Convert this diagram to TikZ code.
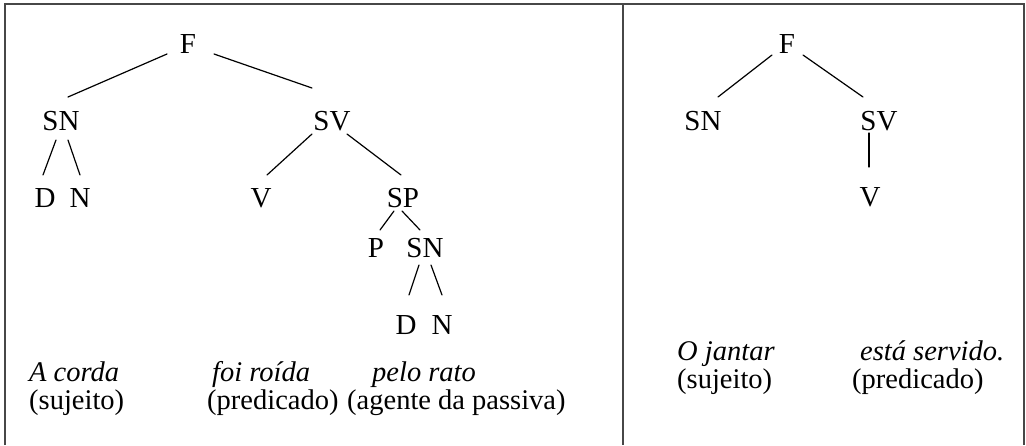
\documentclass[tikz,border=0pt]{standalone}
\usepackage{fontspec}
\setmainfont{Liberation Serif}
\usetikzlibrary{calc}
\begin{document}
\begin{tikzpicture}[x=1pt,y=-1pt,
  lbl/.style={anchor=base,inner sep=0pt,font=\fontsize{29}{29}\selectfont},
  txt/.style={anchor=base west,inner sep=0pt,font=\fontsize{28.5}{29}\selectfont},
  itxt/.style={txt,font=\fontsize{28.5}{29}\selectfont\itshape},
  edge/.style={line width=1.2pt,line cap=round},
  frame/.style={line width=1.6pt,draw=black!72}]
\useasboundingbox (0,0) rectangle (1026,445);
% frame
\draw[frame] (5,445) -- (5,4) -- (1024,4) -- (1024,445);
\draw[frame] (623,4) -- (623,445);
% left tree
\node[lbl] (F)   at (188,53)  {F};
\node[lbl] (SN)  at (61,130)  {SN};
\node[lbl] (SV)  at (332,130) {SV};
\node[lbl] (D)   at (45,207)  {D};
\node[lbl] (N)   at (80,207)  {N};
\node[lbl] (V)   at (261,207) {V};
\node[lbl] (SP)  at (403,207) {SP};
\node[lbl] (P)   at (376,257) {P};
\node[lbl] (SNb) at (425,257) {SN};
\node[lbl] (Db)  at (406,334) {D};
\node[lbl] (Nb)  at (442,334) {N};
\draw[edge] ($(F.base)+(-21,1)$) -- ($(SN.base)+(7,-33)$);
\draw[edge] ($(F.base)+(26,1)$) -- ($(SV.base)+(-20,-42)$);
\draw[edge] ($(SN.base)+(-5,10)$) -- ($(D.base)+(-2,-32)$);
\draw[edge] ($(SN.base)+(7,10)$) -- ($(N.base)+(0,-32)$);
\draw[edge] ($(SV.base)+(-20,4)$) -- ($(V.base)+(6,-32)$);
\draw[edge] ($(SV.base)+(15,4)$) -- ($(SP.base)+(-2,-32)$);
\draw[edge] ($(SP.base)+(-9,4)$) -- ($(P.base)+(4,-27)$);
\draw[edge] ($(SP.base)+(-1,4)$) -- ($(SNb.base)+(-5,-27)$);
\draw[edge] ($(SNb.base)+(-6,8)$) -- ($(Db.base)+(3,-39)$);
\draw[edge] ($(SNb.base)+(6,8)$) -- ($(Nb.base)+(0,-39)$);
% left labels
\node[itxt] (t1) at (29,381)  {A corda};
\node[txt]  (t2) at (29,409)  {(sujeito)};
\node[itxt] (t3) at (212,381) {foi roída};
\node[txt]  (t4) at (207,409) {(predicado)};
\node[itxt] (t5) at (372,381) {pelo rato};
\node[txt]  (t6) at (347,409) {(agente da passiva)};
% right tree
\node[lbl] (F2)  at (787,53)  {F};
\node[lbl] (SN2) at (703,130) {SN};
\node[lbl] (SV2) at (879,130) {SV};
\node[lbl] (V2)  at (870,206) {V};
\draw[edge] ($(F2.base)+(-15,2)$) -- ($(SN2.base)+(15,-33)$);
\draw[edge] ($(F2.base)+(16,2)$) -- ($(SV2.base)+(-16,-33)$);
\draw[edge] ($(SV2.base)+(-10,3)$) -- ($(V2.base)+(-1,-39)$);
% right labels
\node[itxt] (r1) at (677,360) {O jantar};
\node[txt]  (r2) at (677,388) {(sujeito)};
\node[itxt] (r3) at (860,360) {está servido.};
\node[txt]  (r4) at (852,388) {(predicado)};
\end{tikzpicture}
\end{document}
